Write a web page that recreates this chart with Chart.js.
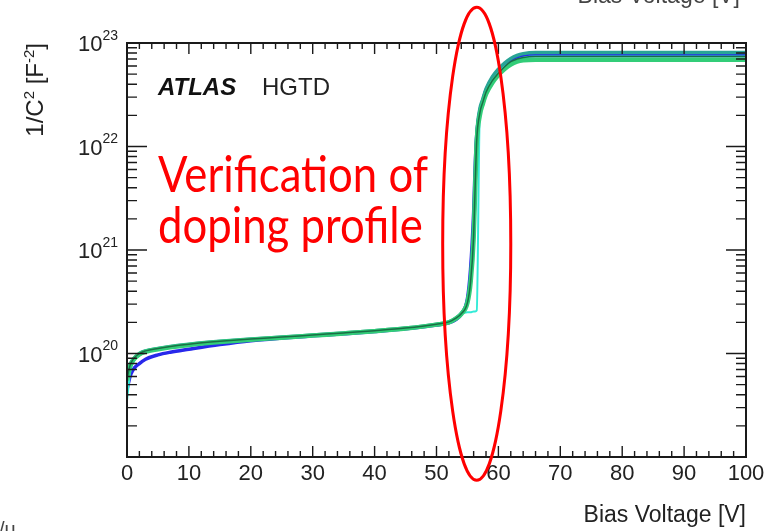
<!DOCTYPE html>
<html>
<head>
<meta charset="utf-8">
<script src="https://cdn.jsdelivr.net/npm/chart.js@4.4.1/dist/chart.umd.min.js"></script>
<style>
  body { margin: 0; background: #fff; }
  canvas { display: block; }
</style>
</head>
<body>
<canvas id="chart" width="764" height="531"></canvas>
<script>
// bias voltage points (V), shared by all sensors
const voltage = [0, 0.5, 1, 2, 3, 5, 7, 10, 15, 20, 25, 30, 35, 40, 45, 50, 52, 53, 54, 55, 55.5, 56, 56.25, 56.5, 57, 57.5, 58, 59, 60, 61, 62, 63, 64, 66, 70, 80, 90, 100];

// 1/C^2 values (F^-2)
const sensorBlue = [4.5e19, 6.0e19, 7.0e19, 8.0e19, 8.8e19, 9.7e19, 1.03e20, 1.1e20, 1.22e20, 1.33e20, 1.41e20, 1.48e20, 1.55e20, 1.63e20, 1.73e20, 1.88e20, 1.98e20, 2.1e20, 2.4e20, 3.4e20, 6.5e20, 2.3e21, 6.5e21, 1.3e22, 2.2e22, 2.8e22, 3.5e22, 4.5e22, 5.4e22, 6.2e22, 6.9e22, 7.3e22, 7.6e22, 7.8e22, 7.8e22, 7.8e22, 7.8e22, 7.8e22];
const sensorTeal = [5.8e19, 7.8e19, 8.8e19, 1.0e20, 1.06e20, 1.12e20, 1.17e20, 1.23e20, 1.31e20, 1.38e20, 1.44e20, 1.51e20, 1.58e20, 1.66e20, 1.76e20, 1.92e20, 2.02e20, 2.17e20, 2.45e20, 3.2e20, 5.2e20, 1.5e21, 4.5e21, 1.25e22, 2.3e22, 2.9e22, 3.6e22, 4.7e22, 5.6e22, 6.4e22, 7.1e22, 7.6e22, 7.9e22, 8.1e22, 8.1e22, 8.1e22, 8.1e22, 8.1e22];
const sensorCyan = [3.5e19, 6.5e19, 8.2e19, 9.6e19, 1.03e20, 1.1e20, 1.15e20, 1.21e20, 1.29e20, 1.36e20, 1.42e20, 1.49e20, 1.56e20, 1.64e20, 1.74e20, 1.9e20, 2.0e20, 2.15e20, 2.4e20, 2.5e20, 2.5e20, 2.55e20, 2.55e20, 2.6e20, 2.1e22, 2.6e22, 3.3e22, 4.3e22, 5.1e22, 5.9e22, 6.5e22, 6.9e22, 7.2e22, 7.4e22, 7.4e22, 7.4e22, 7.4e22, 7.4e22];
const sensorGreen = [5.5e19, 7.5e19, 8.6e19, 9.8e19, 1.04e20, 1.1e20, 1.15e20, 1.21e20, 1.29e20, 1.36e20, 1.42e20, 1.49e20, 1.56e20, 1.64e20, 1.74e20, 1.9e20, 2.0e20, 2.15e20, 2.4e20, 3.1e20, 4.8e20, 1.3e21, 4.0e21, 1.1e22, 2.0e22, 2.6e22, 3.2e22, 4.1e22, 4.9e22, 5.6e22, 6.2e22, 6.6e22, 6.8e22, 6.9e22, 6.9e22, 6.9e22, 6.9e22, 6.9e22];
const sensorDark = [5.7e19, 7.7e19, 8.8e19, 1.0e20, 1.06e20, 1.12e20, 1.17e20, 1.23e20, 1.31e20, 1.38e20, 1.44e20, 1.51e20, 1.58e20, 1.66e20, 1.76e20, 1.92e20, 2.02e20, 2.17e20, 2.42e20, 3.1e20, 4.9e20, 1.35e21, 4.2e21, 1.15e22, 2.1e22, 2.7e22, 3.35e22, 4.3e22, 5.1e22, 5.9e22, 6.6e22, 7.0e22, 7.25e22, 7.4e22, 7.4e22, 7.4e22, 7.4e22, 7.4e22];

// axis ticks
const xTickLabels = [0, 10, 20, 30, 40, 50, 60, 70, 80, 90, 100];
const yDecadeLabels = [20, 21, 22, 23];

// the red ellipse annotation, in data units
const ringCenterV = 56.5;
const ringHalfWidthV = 5.5;
const ringCenterLog = 21.06;
const ringHalfHeightDec = 2.285;

const toPoints = vals => voltage.map((v, i) => ({ x: v, y: vals[i] }));

const rootAxes = {
  id: 'rootAxes',
  afterDraw(chart) {
    const { ctx, chartArea: a, scales: { x, y } } = chart;
    ctx.save();

    // frame
    ctx.strokeStyle = '#1a1a1a';
    ctx.lineWidth = 2;
    ctx.strokeRect(a.left, a.top, a.right - a.left, a.bottom - a.top);

    // ticks pointing inwards, ROOT style
    ctx.lineWidth = 1.4;
    ctx.beginPath();
    for (let v = 0; v <= 100; v += 2) {
      const px = x.getPixelForValue(v);
      const len = v % 10 === 0 ? 11 : 6;
      ctx.moveTo(px, a.bottom); ctx.lineTo(px, a.bottom - len);
      ctx.moveTo(px, a.top); ctx.lineTo(px, a.top + len);
    }
    for (let d = 19; d <= 22; d++) {
      for (let m = 1; m <= 9; m++) {
        const py = y.getPixelForValue(m * Math.pow(10, d));
        const len = m === 1 ? 20 : 10;
        ctx.moveTo(a.left, py); ctx.lineTo(a.left + len, py);
        ctx.moveTo(a.right, py); ctx.lineTo(a.right - len, py);
      }
    }
    ctx.stroke();

    // x tick labels
    ctx.fillStyle = '#222';
    ctx.font = '22px "Liberation Sans", Arial, sans-serif';
    ctx.textAlign = 'center';
    ctx.textBaseline = 'middle';
    xTickLabels.forEach(v => ctx.fillText(String(v), x.getPixelForValue(v), a.bottom + 17));

    // y tick labels 10^n
    yDecadeLabels.forEach(n => {
      const py = y.getPixelForValue(Math.pow(10, n));
      ctx.font = '14px "Liberation Sans", Arial, sans-serif';
      const expW = ctx.measureText(String(n)).width;
      ctx.textAlign = 'right';
      ctx.fillText(String(n), 118, py - 7);
      ctx.font = '22px "Liberation Sans", Arial, sans-serif';
      ctx.fillText('10', 118 - expW, py + 2);
    });

    // axis titles
    ctx.textAlign = 'right';
    ctx.textBaseline = 'alphabetic';
    ctx.font = '23px "Liberation Sans", Arial, sans-serif';
    ctx.fillText('Bias Voltage [V]', a.right, 522);

    const parts = [['1/C', false], ['2', true], [' [F', false], ['-2', true], [']', false]];
    const baseFont = '24px "Liberation Sans", Arial, sans-serif';
    const supFont = '15px "Liberation Sans", Arial, sans-serif';
    let total = 0;
    parts.forEach(([t, sup]) => { ctx.font = sup ? supFont : baseFont; total += ctx.measureText(t).width; });
    ctx.save();
    ctx.translate(43, a.top);
    ctx.rotate(-Math.PI / 2);
    ctx.textAlign = 'left';
    let cx = -total;
    parts.forEach(([t, sup]) => {
      ctx.font = sup ? supFont : baseFont;
      ctx.fillText(t, cx, sup ? -9 : 0);
      cx += ctx.measureText(t).width;
    });
    ctx.restore();

    // ATLAS label
    ctx.textAlign = 'left';
    ctx.fillStyle = '#111';
    ctx.font = 'italic bold 24px "Liberation Sans", Arial, sans-serif';
    ctx.fillText('ATLAS', 158, 95);
    ctx.fillStyle = '#222';
    ctx.font = '24px "Liberation Sans", Arial, sans-serif';
    ctx.fillText('HGTD', 262, 95);

    // red note
    ctx.fillStyle = '#ff0000';
    ctx.font = '51px Lato, "Open Sans", sans-serif';
    const sx = 270 / ctx.measureText('Verification of').width;
    [['Verification of', 192], ['doping profile', 243]].forEach(([t, yb]) => {
      ctx.save();
      ctx.translate(158, yb);
      ctx.scale(sx, 1);
      ctx.fillText(t, 0, 0);
      ctx.restore();
    });

    // red ellipse round the depletion step
    const ex = x.getPixelForValue(ringCenterV);
    const erx = x.getPixelForValue(ringCenterV + ringHalfWidthV) - ex;
    const ey = y.getPixelForValue(Math.pow(10, ringCenterLog));
    const ery = ey - y.getPixelForValue(Math.pow(10, ringCenterLog + ringHalfHeightDec));
    ctx.strokeStyle = '#ff0000';
    ctx.lineWidth = 3;
    ctx.beginPath();
    ctx.ellipse(ex, ey, erx, ery, 0, 0, Math.PI * 2);
    ctx.stroke();

    // bits of neighbouring slide content that are cut off
    ctx.fillStyle = '#444';
    ctx.textAlign = 'right';
    ctx.font = '23px "Liberation Sans", Arial, sans-serif';
    ctx.fillText('Bias Voltage [V]', 740, 3);
    ctx.textAlign = 'left';
    ctx.textBaseline = 'top';
    ctx.font = '20px "Liberation Sans", Arial, sans-serif';
    ctx.fillText('/u', -1, 520);

    ctx.restore();
  }
};

const ctx = document.getElementById('chart').getContext('2d');

new Chart(ctx, {
  type: 'line',
  data: {
    datasets: [
      { data: toPoints(sensorDark), borderColor: 'rgb(25,110,70)', borderWidth: 1.5, order: 1 },
      { data: toPoints(sensorGreen), borderColor: 'rgb(50,205,120)', borderWidth: 4.5, order: 2 },
      { data: toPoints(sensorCyan), borderColor: 'rgb(50,235,215)', borderWidth: 2, order: 3 },
      { data: toPoints(sensorTeal), borderColor: 'rgb(40,165,150)', borderWidth: 3.5, order: 4 },
      { data: toPoints(sensorBlue), borderColor: 'rgb(40,40,235)', borderWidth: 3.5, order: 5 }
    ]
  },
  options: {
    responsive: false,
    animation: false,
    layout: { padding: { left: 127, right: 18, top: 43, bottom: 74 } },
    elements: {
      point: { radius: 0 },
      line: { cubicInterpolationMode: 'monotone', fill: false }
    },
    plugins: {
      legend: { display: false },
      tooltip: { enabled: false }
    },
    scales: {
      x: { type: 'linear', min: 0, max: 100, display: false },
      y: { type: 'logarithmic', min: 1e19, max: 1e23, display: false }
    }
  },
  plugins: [rootAxes]
});
</script>
</body>
</html>
